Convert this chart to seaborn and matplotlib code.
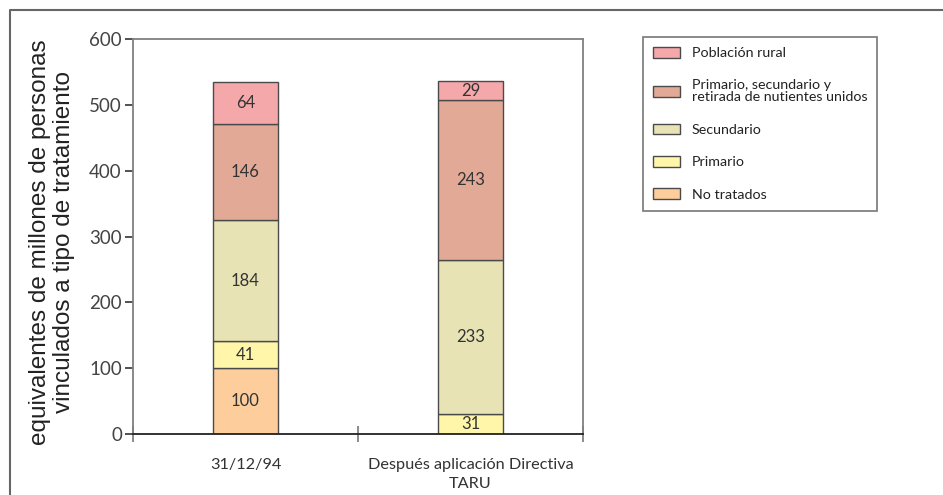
import matplotlib
matplotlib.use("Agg")
import matplotlib.pyplot as plt
from matplotlib.lines import Line2D
from matplotlib.patches import Patch
import numpy as np
import pandas as pd
import seaborn as sns

# Data: millions of population equivalents by treatment type
categories = ["31/12/94", "Después aplicación Directiva\nTARU"]
no_tratados = [100, 0]
primario = [41, 31]
secundario = [184, 233]
psr_unidos = [146, 243]
rural = [64, 29]

series_names = [
    "No tratados",
    "Primario",
    "Secundario",
    "Primario, secundario y\nretirada de nutientes unidos",
    "Población rural",
]
series_values = [no_tratados, primario, secundario, psr_unidos, rural]
series_colors = ["#FDCE9C", "#FFF6AA", "#E8E3B4", "#E2AA96", "#F5A8AA"]

sns.set_theme(style="white")
plt.rcParams["font.family"] = ["Lato", "DejaVu Sans"]

fig = plt.figure(figsize=(9.43, 4.95), dpi=100)
ax = fig.add_axes([133 / 943, 1 - 434 / 495, (583 - 133) / 943, (434 - 39) / 495])

bottom = np.zeros(len(categories))
for name, vals, col in zip(series_names, series_values, series_colors):
    df = pd.DataFrame({"cat": categories, "val": vals})
    sns.barplot(data=df, x="cat", y="val", ax=ax, color=col, width=0.29,
                bottom=bottom.copy(), edgecolor="#4a4a4a", linewidth=1.0,
                saturation=1, errorbar=None)
    for i, v in enumerate(vals):
        if v > 0:
            ax.text(i, bottom[i] + v / 2, str(v), ha="center", va="center",
                    fontsize=12, color="#333333")
    bottom += np.array(vals)

ax.set_xlim(-0.5, 1.5)
ax.set_ylim(0, 600)
ax.set_yticks(range(0, 601, 100))
ax.set_ylabel("")
ax.set_xlabel("")

# boundary tick marks on x, category labels as minor ticks
ax.set_xticks([-0.5, 0.5, 1.5])
ax.set_xticklabels([])
ax.set_xticks([0, 1], minor=True)
ax.set_xticklabels(categories, minor=True, fontsize=11.7, color="#333333")
for lbl in ax.get_xticklabels(minor=True):
    lbl.set_linespacing(1.45)
ax.tick_params(axis="x", which="major", direction="inout", length=12,
               width=1.2, color="#777777")
ax.tick_params(axis="x", which="minor", length=0, pad=17)
ax.tick_params(axis="y", direction="out", length=6, width=1.2,
               color="#333333", labelsize=13.5, labelcolor="#444444", pad=2)
ax.yaxis.set_tick_params(left=True)
ax.xaxis.set_tick_params(bottom=True)

for side in ["top", "right", "left"]:
    ax.spines[side].set_color("#808080")
    ax.spines[side].set_linewidth(1.3)
ax.spines["bottom"].set_color("#222222")
ax.spines["bottom"].set_linewidth(1.3)

fig.text(52 / 943, 1 - 242 / 495,
         "equivalentes de millones de personas\nvinculados a tipo de tratamiento",
         rotation=90, ha="center", va="center", multialignment="center",
         fontsize=17.5, color="#222222", family=["Liberation Sans", "DejaVu Sans"],
         linespacing=1.1)

handles = [Patch(facecolor=c, edgecolor="#4a4a4a", linewidth=1.0, label=n)
           for n, c in zip(series_names, series_colors)][::-1]
leg = fig.legend(handles=handles, loc="upper left",
                 bbox_to_anchor=(643 / 943, 1 - 37 / 495), borderaxespad=0,
                 fontsize=10.3, frameon=True, fancybox=False, handlelength=1.9,
                 handleheight=0.8, handletextpad=0.8, labelspacing=1.4,
                 borderpad=0.7)
leg.get_frame().set_edgecolor("#555555")
leg.get_frame().set_linewidth(1.2)
for t in leg.get_texts():
    t.set_color("#222222")
    t.set_linespacing(1.0)

# outer frame (left and top edges)
fig.add_artist(Line2D([10 / 943, 10 / 943, 1.0], [0.0, 1 - 10 / 495, 1 - 10 / 495],
                      transform=fig.transFigure, color="#666666", linewidth=1.5))

fig.savefig("out.png", dpi=100, facecolor="white")
